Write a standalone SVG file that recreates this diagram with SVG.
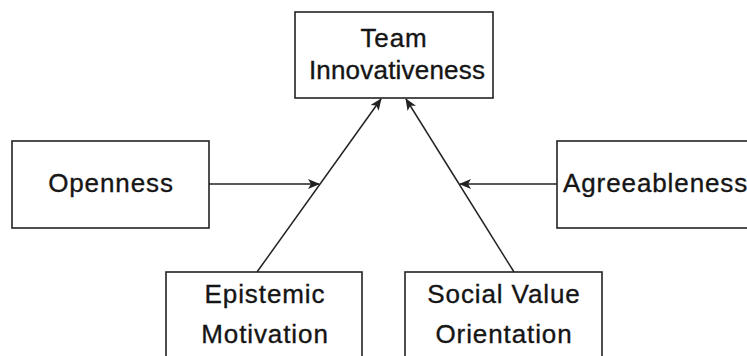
<svg xmlns="http://www.w3.org/2000/svg" width="747" height="356" viewBox="0 0 747 356">
  <style>
    .box { fill: #ffffff; stroke: #222222; stroke-width: 1.6; }
    .lbl { font-family: "Liberation Sans", Arial, Helvetica, sans-serif; font-size: 26px; fill: #151515; stroke: #151515; stroke-width: 0.35px; letter-spacing: 0.9px; }
    .mid { text-anchor: middle; }
    .tight { letter-spacing: 0.2px; }
    .edge { stroke: #222222; stroke-width: 1.5; fill: none; marker-end: url(#arrow); }
  </style>
  <defs>
    <marker id="arrow" viewBox="0 0 12 10" refX="11" refY="5" markerWidth="12" markerHeight="10" markerUnits="userSpaceOnUse" orient="auto">
      <path d="M0,0 L12,5 L0,10 L3,5 Z" fill="#222222"/>
    </marker>
  </defs>
  <rect width="747" height="356" fill="#ffffff"/>

  <g id="connectors">
    <line class="edge" x1="257" y1="272" x2="381" y2="99"/>
    <line class="edge" x1="514" y1="272" x2="406" y2="99"/>
    <line class="edge" x1="209" y1="184" x2="319" y2="184"/>
    <line class="edge" x1="557" y1="184" x2="460" y2="184"/>
  </g>

  <g id="team-innovativeness">
    <rect class="box" x="295" y="12" width="198" height="86"/>
    <text class="lbl mid" x="394" y="47">Team</text>
    <text class="lbl mid tight" x="397" y="79">Innovativeness</text>
  </g>

  <g id="openness">
    <rect class="box" x="12" y="141" width="197" height="87"/>
    <text class="lbl mid" x="111" y="192">Openness</text>
  </g>

  <g id="agreeableness">
    <rect class="box" x="557" y="141" width="200" height="87"/>
    <text class="lbl" x="563" y="192">Agreeableness</text>
  </g>

  <g id="epistemic-motivation">
    <rect class="box" x="166" y="272" width="196" height="100"/>
    <text class="lbl mid" x="265" y="303">Epistemic</text>
    <text class="lbl mid" x="265" y="343">Motivation</text>
  </g>

  <g id="social-value-orientation">
    <rect class="box" x="405" y="272" width="197" height="100"/>
    <text class="lbl mid" x="504" y="303">Social Value</text>
    <text class="lbl mid" x="504" y="343">Orientation</text>
  </g>
</svg>
